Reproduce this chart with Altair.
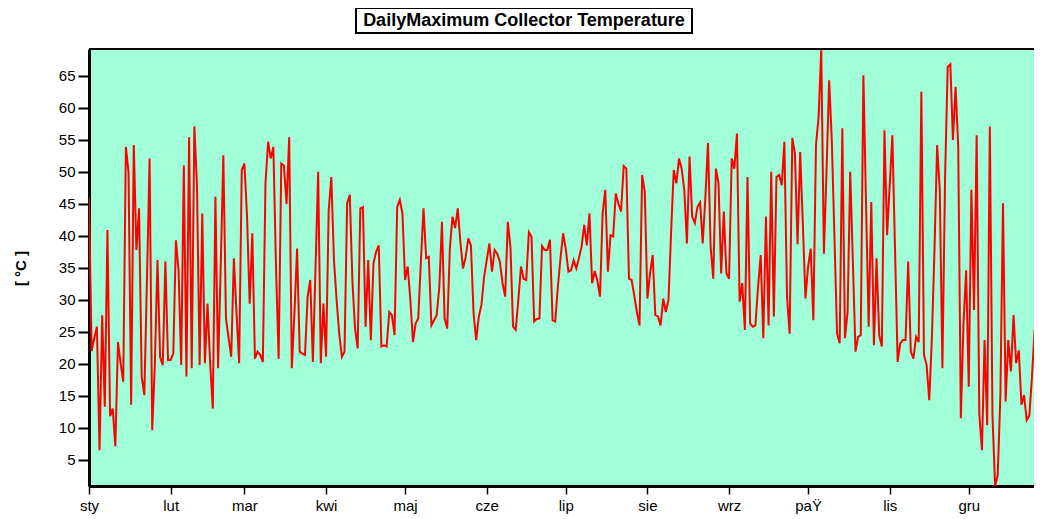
import altair as alt
import pandas as pd

# Daily maximum collector temperature (°C), one value per day from 1 January
temps = [
    46, 22, 24, 25.8, 6.5, 27.6, 13.3, 40.9, 11.8, 13,
    7.1, 23.4, 20.1, 17.2, 53.9, 50, 13.6, 54.2, 37.8, 44.3,
    18, 15.1, 33, 52.1, 9.6, 20, 36.2, 21, 19.8, 36,
    20.6, 20.6, 21.6, 39.3, 34.6, 19.8, 51, 18, 55.4, 19.3,
    57.1, 47.9, 19.8, 43.5, 20.1, 29.4, 20, 13, 46.1, 19.3,
    35, 52.6, 27.1, 24, 21.1, 36.5, 28, 20.1, 50.3, 51.3,
    43, 29.4, 40.4, 20.8, 21.9, 21.4, 20.3, 48.2, 54.7, 52.1,
    53.9, 35, 20.8, 51.3, 51, 45, 55.4, 19.3, 28, 38,
    21.9, 21.6, 21.4, 30.5, 33.1, 20.3, 35, 50, 20.1, 29.4,
    21.1, 44, 49.2, 36.2, 30, 24.7, 21.1, 21.9, 45.1, 46.4,
    33, 25.5, 22.4, 44.3, 44.5, 25.8, 36.2, 23.7, 35.7, 37.5,
    38.5, 22.7, 22.9, 22.7, 28.1, 27.6, 24.5, 44.5, 45.6, 43.5,
    33.1, 35.2, 30, 23.4, 26.3, 27.1, 36, 44.3, 36.5, 36.7,
    26, 26.8, 27.6, 32, 42.2, 27.1, 25.5, 38, 43, 41.2,
    44.3, 39, 34.9, 36.7, 39.6, 38.5, 27.9, 23.7, 27.4, 29.2,
    33.6, 36.2, 38.8, 34.4, 37.8, 37.2, 35.9, 32.6, 30.5, 42.2,
    38.3, 25.8, 25.3, 30, 35.2, 33.3, 33.1, 40.6, 39.9, 26.6,
    27, 27.1, 38.4, 37.8, 37.8, 39.4, 26.8, 26.6, 32, 36.5,
    40.4, 38, 34.4, 34.6, 36.2, 34.9, 36.5, 38.3, 41.7, 38.5,
    43.5, 32.6, 34.5, 33, 30.5, 43.5, 47.2, 34.4, 40.1, 39.9,
    46.6, 45, 43.8, 50.9, 50.5, 33.3, 33.1, 30.7, 28.1, 26,
    49.5, 46.9, 30.2, 34.1, 37, 27.6, 27.4, 26, 30.2, 28.1,
    30, 40.6, 50.3, 48.2, 52.1, 50.5, 47.2, 38.8, 52.4, 43,
    42, 44.5, 45.2, 38.8, 46, 54.5, 38.3, 33.3, 50.5, 48.2,
    34.1, 43.8, 34.1, 33.3, 52.1, 50.5, 56, 29.7, 32.6, 25.3,
    49.2, 26.3, 25.8, 26, 32, 37, 24, 43, 26, 50,
    27.4, 49.2, 49.5, 47.9, 54.7, 30.5, 24.7, 55.3, 52.9, 38.7,
    53.1, 42, 30.2, 35.2, 38, 26.8, 54.2, 58.6, 69.2, 37.2,
    50, 64.3, 55, 40, 24.7, 23.2, 56.8, 24, 28.1, 50,
    36, 21.9, 24.2, 24.5, 65.1, 45, 25.8, 45.3, 22.9, 36.5,
    24.5, 22.7, 56.5, 40.1, 48, 55.7, 38, 20.3, 23.2, 23.7,
    23.7, 36, 21.9, 20.8, 24.2, 23.4, 62.5, 21.4, 19.8, 14.3,
    24, 38, 54.2, 47.2, 19.3, 49, 66.4, 66.8, 55, 63.3,
    54, 11.5, 26.3, 34.6, 16.4, 47.2, 28.4, 55.7, 12.2, 6.5,
    23.7, 10.4, 57.1, 12, 0.9, 2.6, 15, 45.1, 14.1, 23.7,
    18.8, 27.6, 20.1, 22.1, 13.6, 15.1, 11.2, 11.9, 18, 25.3,
    22.1, 20.8, 27,
]

month_starts = [0, 31, 59, 90, 120, 151, 181, 212, 243, 273, 304, 334]
month_names = ["sty", "lut", "mar", "kwi", "maj", "cze", "lip", "sie", "wrz", "paŸ", "lis", "gru"]
y_ticks = [5, 10, 15, 20, 25, 30, 35, 40, 45, 50, 55, 60, 65]
title_text = "DailyMaximum Collector Temperature"
y_title = "[ °C ]"

FONT = "Liberation Sans"
W, H = 945, 437
PX_PER_DAY = 2.634

df = pd.DataFrame({"day": list(range(len(temps))), "temp": temps})
one = pd.DataFrame({"k": [0]})

label_expr = (
    "[" + ",".join("'" + n + "'" for n in month_names) + "]"
    + "[indexof([" + ",".join(str(m) for m in month_starts) + "], datum.value)]"
)

x_enc = alt.X(
    "day:Q",
    scale=alt.Scale(domain=[0, W / PX_PER_DAY], nice=False, zero=False),
    axis=alt.Axis(
        values=month_starts, labelExpr=label_expr, title=None, grid=False,
        domainColor="black", domainWidth=3, tickColor="black", tickWidth=1.5,
        tickSize=8, labelFont=FONT, labelFontSize=15, labelColor="black",
        labelPadding=4, labelFlush=False, labelOverlap=False,
    ),
)
y_enc = alt.Y(
    "temp:Q",
    scale=alt.Scale(domain=[0.9, 69.2], nice=False, zero=False),
    axis=alt.Axis(
        values=y_ticks, title=y_title, grid=False,
        domainColor="black", domainWidth=3, tickColor="black", tickWidth=2,
        tickSize=11, labelFont=FONT, labelFontSize=15, labelColor="black",
        labelPadding=3, labelOverlap=False,
        titleFont=FONT, titleFontSize=15, titleFontWeight="bold", titleColor="black",
        titleAngle=-90, titleX=-69, titleY=219, titleAlign="center", titleBaseline="middle",
    ),
)

line = alt.Chart(df).mark_line(color="#FF0000", strokeWidth=2, clip=True).encode(x=x_enc, y=y_enc)

top_rule = alt.Chart(one).mark_rule(color="black", strokeWidth=2).encode(
    x=alt.value(0), x2=alt.value(W), y=alt.value(0)
)

title_box = alt.Chart(one).mark_rect(fill="white", stroke="black", strokeWidth=2).encode(
    x=alt.value(267), x2=alt.value(603), y=alt.value(-41), y2=alt.value(-16)
)
title_txt = alt.Chart(one).mark_text(
    text=title_text, font=FONT, fontSize=18, fontWeight="bold", color="black",
    align="center", baseline="middle",
).encode(x=alt.value(435), y=alt.value(-28))

chart = alt.layer(title_box, title_txt, line, top_rule).properties(
    width=W, height=H,
    padding={"left": 81, "top": 41, "right": 0, "bottom": 28},
    autosize=alt.AutoSizeParams(type="none"),
    background="white",
).configure_view(fill="#A0FFD8", stroke=None)

chart.save("out.html", embed_options={"renderer": "svg", "actions": False})
